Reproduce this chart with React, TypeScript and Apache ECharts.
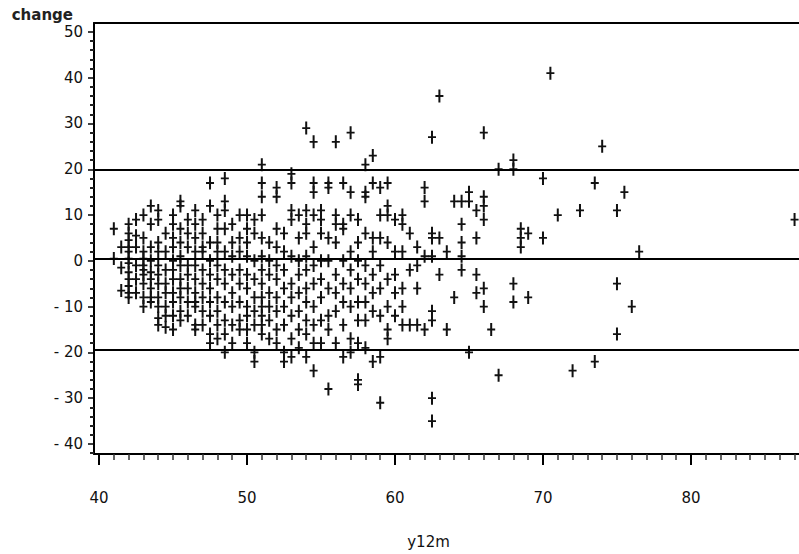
import React, { useEffect, useRef } from "react";
import * as echarts from "echarts";

const xTickLabels = [40, 50, 60, 70, 80];
const yTickLabels = [-40, -30, -20, -10, 0, 10, 20, 30, 40, 50];
const meanLine = 0.4;
const upperLimit = 19.8;
const lowerLimit = -19.5;

// y12m column positions and the "change" values at each
const colX = [
  41.0, 41.5, 42.0, 42.5, 43.0, 43.5, 44.0, 44.5, 45.0, 45.5, 46.0, 46.5, 47.0, 47.5,
  48.0, 48.5, 49.0, 49.5, 50.0, 50.5, 51.0, 51.5, 52.0, 52.5, 53.0, 53.5, 54.0, 54.5,
  55.0, 55.5, 56.0, 56.5, 57.0, 57.5, 58.0, 58.5, 59.0, 59.5, 60.0, 60.5, 61.0, 61.5,
  62.0, 62.5, 63.0, 63.5, 64.0, 64.5, 65.0, 65.5, 66.0, 66.5, 67.0, 68.0, 68.5, 69.0,
  70.0, 70.5, 71.0, 72.0, 72.5, 73.5, 74.0, 75.0, 75.5, 76.0, 76.5, 87.0,
];
const colChange = [
  [7, 0.5],
  [3, -1.5, -6.5],
  [8, 6, 4.5, 3, 2, 0.5, -0.5, -2.5, -4, -5.5, -7, -8],
  [9, 5.5, 3, -1, -4, -7],
  [10, 5, 2, 0.5, -1, -2, -3, -5, -8, -10],
  [12, 8, 3, 0, -2.5, -4, -6, -8, -9],
  [11, 9, 4, 2, -1, -3, -5, -8, -10, -12.5, -14],
  [6, 2, -2, -5, -7, -10, -12, -14.5],
  [10, 8, 5, 3, 0, -2, -4, -7, -9, -12, -15],
  [13, 12, 7, 4, 1, -1, -4, -6, -8, -11, -13],
  [9, 6, 3, -1, -3, -6, -9, -12],
  [11, 8, 5, 2, -1, -4, -7, -9, -10, -14, -15],
  [9, 6, 3, 2, -2, -5, -8, -11, -14],
  [17, 12, 4, 0, -3, -6, -9, -12, -16, -18],
  [10, 7, 4, 2, -1, -4, -8, -11, -14, -17],
  [18, 13, 11, 7, 2, -2, -5, -9, -13, -16, -20],
  [8, 4, 1, -3, -7, -10, -14, -18],
  [10, 5, 2, -2, -5, -9, -13, -15],
  [10, 7, 4, 1, -3, -6, -10, -12, -15, -18],
  [9, 6, 0, -4, -8, -11, -14, -20, -22],
  [21, 17, 14, 10, 5, 1, -2, -5, -8, -10, -12, -14, -16],
  [4, 0, -3, -7, -10, -13, -17],
  [16, 14, 7, 3, -1, -4, -8, -11, -15, -18],
  [6, 2, -2, -6, -10, -14, -20, -22],
  [19, 17, 11, 9, 1, -5, -8, -12, -17, -21],
  [10, 5, 0, -3, -7, -11, -15, -19],
  [29, 11, 8, 6, 1, -2, -6, -9, -13, -16, -21],
  [26, 17, 15, 10, 3, -1, -5, -10, -14, -18, -24],
  [11, 9, 6, 0, -4, -8, -13, -18],
  [17, 16, 5, 0, -6, -12, -15, -28],
  [26, 10, 8, 4, -3, -7, -11, -18],
  [17, 8, 7, 0, -5, -9, -14, -21],
  [28, 15, 10, 2, -2, -6, -10, -17, -20],
  [9, 4, 0, -4, -9, -13, -18, -26, -27],
  [21, 15, 14, 6, -1, -5, -9, -13, -19],
  [23, 17, 5, 2, -3, -7, -11, -22],
  [16, 10, 5, -1, -6, -12, -21, -31],
  [17, 12, 10, 4, -4, -10, -15, -17],
  [9, 2, -3, -7, -12],
  [10, 8, 2, -6, -10, -14],
  [6, -2, -14],
  [3, -1, -6, -14],
  [16, 13, 1, -15],
  [27, 6, 5, 1, -11, -13, -30, -35],
  [36, 5, -3],
  [2, -15],
  [13, -8],
  [13, 8, 4, 1, -2],
  [15, 13, -20],
  [11, 5, -3, -7],
  [28, 14, 12, 9, -6, -10],
  [-15],
  [20, -25],
  [22, 20, -5, -9],
  [7, 5, 3],
  [6, -8],
  [18, 5],
  [41],
  [10],
  [-24],
  [11],
  [17, -22],
  [25],
  [11, -5, -16],
  [15],
  [-10],
  [2],
  [9],
];

const plusPath =
  "path://M3,0 L5,0 L5,5.6 L8,5.6 L8,7.4 L5,7.4 L5,13 L3,13 L3,7.4 L0,7.4 L0,5.6 L3,5.6 Z";

const font = "DejaVu Sans";

export default function App() {
  const ref = useRef<HTMLDivElement>(null);
  useEffect(() => {
    if (!ref.current) return;
    const chart = echarts.init(ref.current, null, { renderer: "svg" });
    const data = colX.flatMap((x, i) => colChange[i].map((c) => [x, c]));
    const xMin = 39.66;
    const xMax = 87.3;
    chart.setOption({
      animation: false,
      backgroundColor: "#ffffff",
      grid: { left: 94, right: 0, top: 23, bottom: 95, containLabel: false },
      xAxis: [
        {
          type: "value",
          position: "bottom",
          min: xMin,
          max: xMax,
          name: "y12m",
          nameLocation: "middle",
          nameGap: 80,
          nameTextStyle: {
            fontFamily: font,
            fontSize: 15,
            color: "#111",
            padding: [0, 36, 0, 0],
          },
          axisLine: { show: true, onZero: false, lineStyle: { color: "#000", width: 2 } },
          axisTick: {
            show: true,
            length: 11,
            customValues: xTickLabels,
            lineStyle: { color: "#000", width: 2 },
          },
          minorTick: { show: true, splitNumber: 10, length: 6, lineStyle: { color: "#333", width: 1.5 } },
          axisLabel: {
            customValues: xTickLabels,
            margin: 36,
            fontFamily: font,
            fontSize: 15,
            color: "#111",
          },
          splitLine: { show: false },
        },
        {
          type: "value",
          position: "top",
          min: xMin,
          max: xMax,
          axisLine: { show: true, onZero: false, lineStyle: { color: "#000", width: 2 } },
          axisTick: { show: false },
          axisLabel: { show: false },
          splitLine: { show: false },
        },
      ],
      yAxis: {
        type: "value",
        min: -42.2,
        max: 51.95,
        splitNumber: 10,
        name: "change",
        nameLocation: "end",
        nameGap: 1,
        nameTextStyle: {
          fontFamily: font,
          fontSize: 15,
          fontWeight: "bold",
          color: "#222",
          align: "right",
          verticalAlign: "bottom",
          padding: [0, 21, 0, 0],
        },
        axisLine: { show: true, onZero: false, lineStyle: { color: "#000", width: 2 } },
        axisTick: {
          show: true,
          length: 6,
          customValues: yTickLabels,
          lineStyle: { color: "#000", width: 1.5 },
        },
        minorTick: { show: true, splitNumber: 5, length: 4, lineStyle: { color: "#222", width: 2 } },
        axisLabel: {
          customValues: yTickLabels,
          margin: 11,
          fontFamily: font,
          fontSize: 15,
          color: "#111",
          padding: [14, 0, 0, 0],
          formatter: (v: number) => (v < 0 ? "- " + Math.abs(v) : String(v)),
        },
        splitLine: { show: false },
      },
      series: [
        {
          type: "scatter",
          xAxisIndex: 0,
          data,
          symbol: plusPath,
          symbolSize: [8, 13],
          itemStyle: { color: "#111", opacity: 1 },
          markLine: {
            silent: true,
            symbol: ["none", "none"],
            label: { show: false },
            lineStyle: { color: "#000", width: 2, type: "solid" },
            data: [{ yAxis: meanLine }, { yAxis: upperLimit }, { yAxis: lowerLimit }],
          },
        },
      ],
    });
    return () => chart.dispose();
  }, []);
  return (
    <div
      ref={ref}
      style={{ position: "fixed", left: 0, top: 0, width: 799, height: 554 }}
    />
  );
}
